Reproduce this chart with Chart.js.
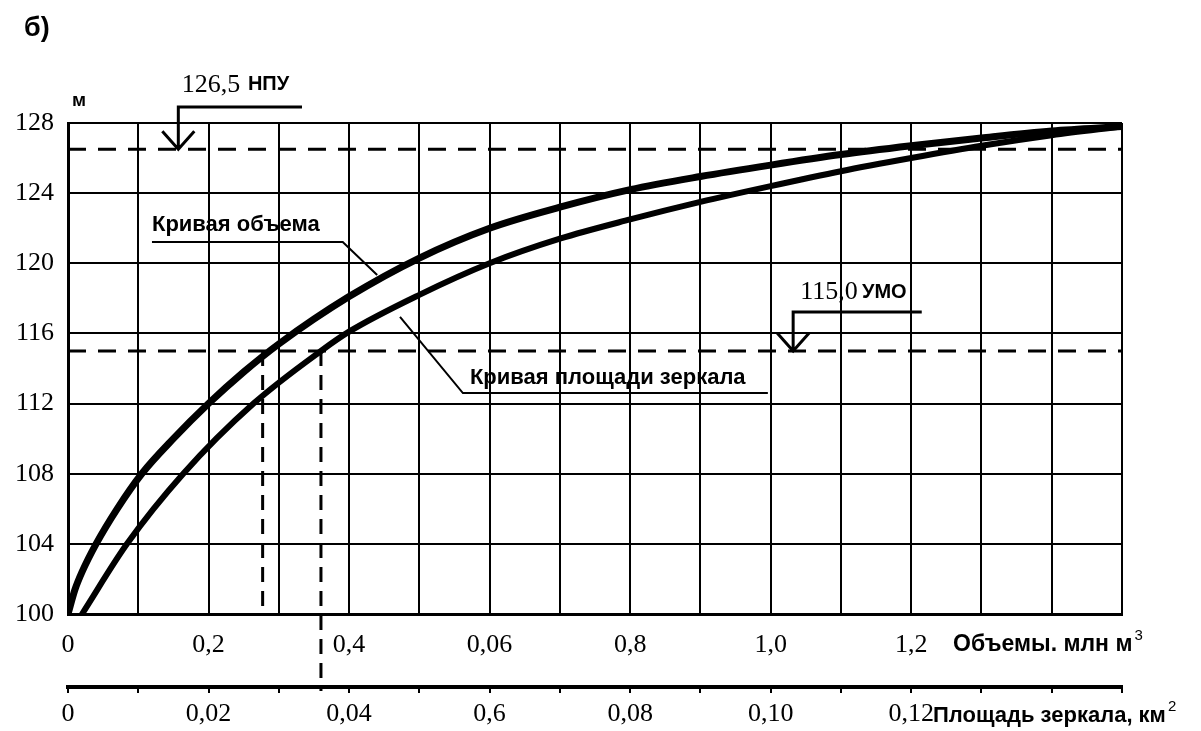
<!DOCTYPE html>
<html>
<head>
<meta charset="utf-8">
<script src="https://cdn.jsdelivr.net/npm/chart.js@4.4.1/dist/chart.umd.min.js"></script>
<style>
  html, body { margin: 0; background: #fff; }
  #wrap { width: 1201px; height: 731px; position: relative; }
</style>
</head>
<body>
<div id="wrap"><canvas id="chart"></canvas></div>
<script>
// Кривая объема: объем (млн м3) -> отметка (м)
const volumeX = [0, 0.01, 0.02, 0.04, 0.07, 0.105, 0.15, 0.2, 0.25, 0.3, 0.4, 0.5, 0.6, 0.7, 0.8, 0.9, 1.0, 1.1, 1.2, 1.3, 1.4, 1.5];
const volumeLevel = [100, 101.4, 102.4, 104.0, 106.0, 108.0, 110.0, 112.0, 113.8, 115.4, 118.1, 120.3, 122.0, 123.2, 124.2, 124.95, 125.6, 126.2, 126.7, 127.15, 127.55, 127.8];

// Кривая площади зеркала: площадь (км2) -> отметка (м)
const areaX = [0.002, 0.0084, 0.0164, 0.0264, 0.036, 0.04, 0.05, 0.06, 0.07, 0.08, 0.09, 0.10, 0.11, 0.12, 0.13, 0.14, 0.15];
const areaLevel = [100, 104.0, 108.0, 112.0, 115.0, 116.1, 118.2, 120.0, 121.4, 122.5, 123.5, 124.4, 125.25, 126.0, 126.7, 127.3, 127.8];

// tick labels (as printed, every second grid line)
const volumeTickLabels = ['0', '0,2', '0,4', '0,06', '0,8', '1,0', '1,2'];
const areaTickLabels = ['0', '0,02', '0,04', '0,6', '0,08', '0,10', '0,12'];

// levels
const npuLevel = 126.5;
const umoLevel = 115.0;
const umoVolume = 0.277;
const umoArea = 0.036;

const serif = 'Liberation Serif';
const sans = 'Liberation Sans';

const pts = (xs, ys) => xs.map((x, i) => ({ x, y: ys[i] }));

const annotations = {
  id: 'annotations',
  afterDatasetsDraw(chart) {
    const { ctx, scales } = chart;
    const px = v => scales.x.getPixelForValue(v);
    const py = v => scales.y.getPixelForValue(v);
    ctx.save();
    ctx.strokeStyle = '#000';
    ctx.fillStyle = '#000';
    ctx.lineCap = 'butt';

    // vertical dashed line from УМО on the area curve down to the area axis
    ctx.setLineDash([15, 9]);
    ctx.lineWidth = 3;
    const ax = scales.x2.getPixelForValue(umoArea);
    ctx.beginPath();
    ctx.moveTo(ax, py(umoLevel));
    ctx.lineTo(ax, scales.x2.top + 4);
    ctx.stroke();
    ctx.setLineDash([]);

    // level markers with leaders
    const marker = (xv, level, leaderY, leaderEnd, num, numX, tag, tagX, textY) => {
      const cx = px(xv), tip = py(level), ly = py(leaderY);
      ctx.lineWidth = 3;
      ctx.beginPath();
      ctx.moveTo(px(leaderEnd), ly);
      ctx.lineTo(cx, ly);
      ctx.lineTo(cx, tip);
      ctx.moveTo(cx - 16, tip - 18);
      ctx.lineTo(cx, tip);
      ctx.lineTo(cx + 16, tip - 18);
      ctx.stroke();
      ctx.textBaseline = 'middle';
      ctx.textAlign = 'left';
      ctx.font = `26px "${serif}"`;
      ctx.fillText(num, px(numX), py(textY));
      ctx.font = `bold 20px "${sans}"`;
      ctx.fillText(tag, px(tagX), py(textY));
    };
    marker(0.157, npuLevel, 128.91, 0.333, '126,5', 0.162, 'НПУ', 0.256, 130.17);
    marker(1.032, umoLevel, 117.22, 1.215, '115,0', 1.042, 'УМО', 1.13, 118.36);

    // curve labels with leaders
    const callout = (text, tx, ty, lineY, x0, x1, endX, endY, fromLeft) => {
      ctx.font = `bold 22px "${sans}"`;
      ctx.textAlign = 'left';
      ctx.textBaseline = 'middle';
      ctx.fillText(text, px(tx), py(ty));
      ctx.lineWidth = 2;
      ctx.beginPath();
      if (fromLeft) {
        ctx.moveTo(px(endX), py(endY));
        ctx.lineTo(px(x0), py(lineY));
        ctx.lineTo(px(x1), py(lineY));
      } else {
        ctx.moveTo(px(x0), py(lineY));
        ctx.lineTo(px(x1), py(lineY));
        ctx.lineTo(px(endX), py(endY));
      }
      ctx.stroke();
    };
    callout('Кривая объема', 0.1195, 122.18, 121.21, 0.1195, 0.391, 0.44, 119.33, false);
    callout('Кривая площади зеркала', 0.572, 113.46, 112.6, 0.562, 0.996, 0.4725, 116.94, true);

    // axis titles
    const withSup = (text, sup, x, y, size) => {
      ctx.font = `bold ${size}px "${sans}"`;
      ctx.textAlign = 'left';
      ctx.textBaseline = 'middle';
      ctx.fillText(text, x, y);
      const w = ctx.measureText(text).width;
      ctx.font = `15px "${sans}"`;
      ctx.fillText(sup, x + w + 2, y - 9);
    };
    withSup('Объемы. млн м', '3', 953, 645, 23);
    withSup('Площадь зеркала, км', '2', 933, 716, 22);

    ctx.font = `bold 19px "${sans}"`;
    ctx.fillText('м', 72, 101);
    ctx.font = `bold 27px "${sans}"`;
    ctx.fillText('б)', 24, 29);
    ctx.restore();
  }
};

new Chart(document.getElementById('chart'), {
  type: 'scatter',
  data: {
    datasets: [
      {
        data: pts(volumeX, volumeLevel), xAxisID: 'x', showLine: true,
        borderColor: '#000', borderWidth: 7, pointRadius: 0,
        cubicInterpolationMode: 'monotone', borderCapStyle: 'round'
      },
      {
        data: pts(areaX, areaLevel), xAxisID: 'x2', showLine: true,
        borderColor: '#000', borderWidth: 6, pointRadius: 0,
        cubicInterpolationMode: 'monotone', borderCapStyle: 'round'
      },
      {
        data: [{ x: 0, y: npuLevel }, { x: 1.5, y: npuLevel }], xAxisID: 'x', showLine: true,
        borderColor: '#000', borderWidth: 3, borderDash: [18, 12], pointRadius: 0
      },
      {
        data: [{ x: 0, y: umoLevel }, { x: 1.5, y: umoLevel }], xAxisID: 'x', showLine: true,
        borderColor: '#000', borderWidth: 3, borderDash: [18, 12], pointRadius: 0
      },
      {
        data: [{ x: umoVolume, y: umoLevel }, { x: umoVolume, y: 100 }], xAxisID: 'x', showLine: true,
        borderColor: '#000', borderWidth: 3, borderDash: [15, 9], pointRadius: 0
      }
    ]
  },
  options: {
    responsive: true,
    maintainAspectRatio: false,
    animation: false,
    layout: { padding: { top: 123, right: 79, left: 0, bottom: 0 } },
    plugins: { legend: { display: false }, tooltip: { enabled: false } },
    scales: {
      x: {
        type: 'linear', position: 'bottom', weight: 0, min: 0, max: 1.5,
        afterFit: s => { s.height = 73; },
        border: { color: '#000', width: 3 },
        grid: { color: '#000', lineWidth: 2, drawTicks: false },
        ticks: {
          stepSize: 0.1, maxTicksLimit: 20, autoSkip: false, maxRotation: 0, minRotation: 0,
          padding: 16, color: '#000', font: { family: serif, size: 26 },
          callback: (v, i) => (i % 2 === 0 && volumeTickLabels[i / 2]) || ''
        }
      },
      x2: {
        type: 'linear', position: 'bottom', weight: 1, min: 0, max: 0.15,
        afterFit: s => { s.height = 44; },
        border: { color: '#000', width: 4 },
        grid: { color: '#000', lineWidth: 2, drawOnChartArea: false, drawTicks: true, tickLength: 6 },
        ticks: {
          stepSize: 0.01, maxTicksLimit: 20, autoSkip: false, maxRotation: 0, minRotation: 0,
          padding: 6, color: '#000', font: { family: serif, size: 26 },
          callback: (v, i) => (i % 2 === 0 && areaTickLabels[i / 2]) || ''
        }
      },
      y: {
        type: 'linear', min: 100, max: 128,
        afterFit: s => { s.width = 68; },
        border: { color: '#000', width: 3 },
        grid: { color: '#000', lineWidth: 2, drawTicks: false },
        ticks: {
          stepSize: 4, padding: 14, color: '#000', font: { family: serif, size: 26 }
        }
      }
    }
  },
  plugins: [annotations]
});
</script>
</body>
</html>
